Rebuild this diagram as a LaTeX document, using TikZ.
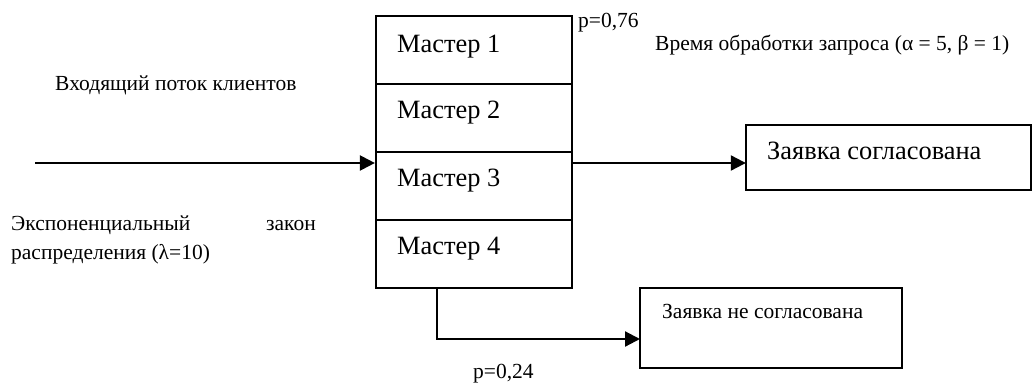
\documentclass[tikz,border=0pt]{standalone}
\usepackage{fontspec}
\setmainfont{Liberation Serif}
\usetikzlibrary{arrows.meta,calc}
\tikzset{
  box/.style={draw,line width=2.2pt,inner sep=0pt,minimum width=196pt,minimum height=68pt},
  frame/.style={draw,line width=2.2pt},
  arr/.style={line width=2.2pt,-{Triangle[length=15pt,width=15pt]}},
  big/.style={font=\fontsize{26.4}{30}\selectfont,anchor=base west,inner sep=0pt},
  small/.style={font=\fontsize{21.5}{25}\selectfont,anchor=base west,inner sep=0pt},
}
\begin{document}
\begin{tikzpicture}[x=1pt,y=-1pt]
\useasboundingbox (0,0) rectangle (1033,385);
% master stack
\node[box] (m1) at (474,50) {};
\node[box] (m2) at (474,118) {};
\node[box] (m3) at (474,186) {};
\node[box] (m4) at (474,254) {};
\node[big] (t1) at (397,53) {Мастер 1};
\node[big] (t2) at (397,119) {Мастер 2};
\node[big] (t3) at (397,186) {Мастер 3};
\node[big] (t4) at (397,254) {Мастер 4};
% result boxes
\draw[frame] (746,125) rectangle (1031,190);
\node[inner sep=0pt,minimum width=285pt,minimum height=65pt] (ok) at (888.5,157.5) {};
\draw[frame] (640,288) rectangle (902,368);
\node[inner sep=0pt,minimum width=262pt,minimum height=80pt] (no) at (771,328) {};
\node[big] (tok) at (767,159) {Заявка согласована};
\node[small] (tno) at (662,318) {Заявка не согласована};
% connectors
\coordinate (in) at (35,163);
\draw[arr] (in) -- (in -| m3.west);
\draw[arr] (in -| m3.east) -- (in -| ok.west);
\coordinate (b) at (437,287);
\coordinate (nb) at (640,339);
\draw[arr] (b) |- (nb);
% labels
\node[small] (p1) at (578,28) {p=0,76};
\node[small] (p2) at (473,378) {p=0,24};
\node[small] (time) at (655,51) {Время обработки запроса (α = 5, β = 1)};
\node[small] (flow) at (55,91) {Входящий поток клиентов};
\node[small] (exp1) at (11,230) {Экспоненциальный};
\node[small,anchor=base east] (exp2) at (316,230) {закон};
\node[small] (exp3) at (11,259) {распределения (λ=10)};
\end{tikzpicture}
\end{document}
